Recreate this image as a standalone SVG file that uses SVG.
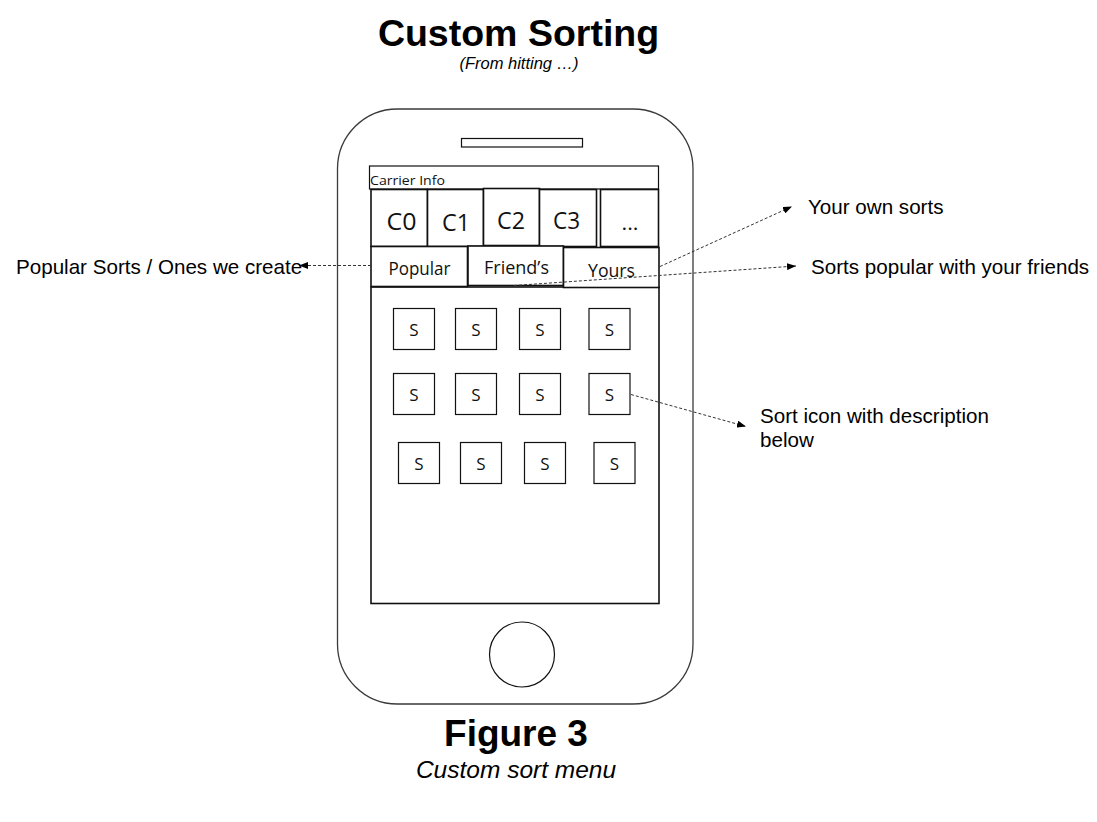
<svg xmlns="http://www.w3.org/2000/svg" width="1097" height="822" viewBox="0 0 1097 822">
<style>
.bg{fill:#fff}
.phone{fill:#fff;stroke:#3a3a3a;stroke-width:1.3}
.box{fill:#fff;stroke:#111;stroke-width:1.6}
.thin{fill:#fff;stroke:#111;stroke-width:1.2}
.cal{font-family:"Open Sans","Noto Sans","DejaVu Sans",sans-serif;fill:#111}
.ar{font-family:"Liberation Sans",Arial,sans-serif;fill:#000}
.conn{fill:none;stroke:#333;stroke-width:1;stroke-dasharray:3 2}
</style>
<defs>
<marker id="ah" markerUnits="userSpaceOnUse" markerWidth="9" markerHeight="7" refX="9" refY="3.5" orient="auto">
<path d="M0,0 L9,3.5 L0,7 z" fill="#000"/>
</marker>
</defs>
<rect class="bg" x="0" y="0" width="1097" height="822"/>

<g id="title">
<text class="ar" x="518.5" y="46" font-size="37.5" font-weight="bold" text-anchor="middle">Custom Sorting</text>
<text class="ar" x="519" y="69" font-size="16.5" font-style="italic" text-anchor="middle">(From hitting …)</text>
</g>

<g id="phone">
<rect class="phone" x="337.5" y="109" width="355.5" height="595" rx="60" ry="60"/>
<rect class="thin" x="461.5" y="138.5" width="121" height="8.5"/>
<circle class="thin" cx="522" cy="654.5" r="32.5"/>
</g>

<g id="screen">
<rect class="box" x="371" y="287" width="288" height="316.5"/>
</g>

<g id="carrier">
<rect class="thin" x="369.5" y="166" width="289" height="23"/>
<text class="cal" x="370" y="184.5" font-size="13.5" textLength="75" lengthAdjust="spacingAndGlyphs">Carrier Info</text>
</g>

<g id="categories">
<rect class="box" x="371" y="189.5" width="56.5" height="57"/>
<rect class="box" x="427.5" y="189.5" width="56" height="57"/>
<rect class="box" x="483.5" y="188.5" width="56" height="57"/>
<rect class="box" x="539.5" y="189.5" width="57" height="57"/>
<rect class="box" x="600.5" y="189.5" width="58" height="57"/>
<text class="cal" x="401.5" y="230" font-size="24" text-anchor="middle" textLength="30" lengthAdjust="spacingAndGlyphs">C0</text>
<text class="cal" x="456" y="230.5" font-size="24" text-anchor="middle" textLength="28" lengthAdjust="spacingAndGlyphs">C1</text>
<text class="cal" x="511" y="228.5" font-size="24" text-anchor="middle" textLength="28" lengthAdjust="spacingAndGlyphs">C2</text>
<text class="cal" x="566.5" y="228.5" font-size="24" text-anchor="middle" textLength="27" lengthAdjust="spacingAndGlyphs">C3</text>
<text class="cal" x="630" y="230" font-size="20" text-anchor="middle" textLength="17" lengthAdjust="spacingAndGlyphs">...</text>
</g>

<g id="tabs">
<rect class="box" x="371" y="246.5" width="96.5" height="40"/>
<rect class="box" x="468" y="246" width="95.5" height="39.5"/>
<rect class="box" x="563.5" y="247.5" width="95.5" height="40"/>
<text class="cal" x="419.5" y="274.5" font-size="17.5" text-anchor="middle" textLength="62" lengthAdjust="spacingAndGlyphs">Popular</text>
<text class="cal" x="516.5" y="274" font-size="17.5" text-anchor="middle" textLength="65" lengthAdjust="spacingAndGlyphs">Friend’s</text>
<text class="cal" x="611.5" y="276.5" font-size="17.5" text-anchor="middle" textLength="47" lengthAdjust="spacingAndGlyphs">Yours</text>
</g>

<g id="sorts">
<rect class="thin" x="393.5" y="308.5" width="41" height="41"/>
<rect class="thin" x="455.5" y="308.5" width="41" height="41"/>
<rect class="thin" x="519.5" y="308.5" width="41" height="41"/>
<rect class="thin" x="589" y="308.5" width="41" height="41"/>
<rect class="thin" x="393.5" y="373.5" width="41" height="41"/>
<rect class="thin" x="455.5" y="373.5" width="41" height="41"/>
<rect class="thin" x="519.5" y="373.5" width="41" height="41"/>
<rect class="thin" x="589" y="373.5" width="41" height="41"/>
<rect class="thin" x="398.5" y="442.5" width="41" height="41"/>
<rect class="thin" x="460.5" y="442.5" width="41" height="41"/>
<rect class="thin" x="524.5" y="442.5" width="41" height="41"/>
<rect class="thin" x="594" y="442.5" width="41" height="41"/>
<g class="cal" font-size="17" text-anchor="middle">
<text x="414" y="335.5">S</text>
<text x="476" y="335.5">S</text>
<text x="540" y="335.5">S</text>
<text x="609.5" y="335.5">S</text>
<text x="414" y="400.5">S</text>
<text x="476" y="400.5">S</text>
<text x="540" y="400.5">S</text>
<text x="609.5" y="400.5">S</text>
<text x="419" y="469.5">S</text>
<text x="481" y="469.5">S</text>
<text x="545" y="469.5">S</text>
<text x="614.5" y="469.5">S</text>
</g>
</g>

<g id="connectors">
<line class="conn" x1="371" y1="265.5" x2="299" y2="265.5" marker-end="url(#ah)"/>
<line class="conn" x1="660" y1="266.5" x2="792" y2="206.5" marker-end="url(#ah)"/>
<line class="conn" x1="514" y1="285.5" x2="796" y2="266" marker-end="url(#ah)"/>
<line class="conn" x1="631" y1="394.5" x2="746" y2="426.5" marker-end="url(#ah)"/>
</g>

<g id="labels">
<text class="ar" x="16" y="274" font-size="20.6">Popular Sorts / Ones we create</text>
<text class="ar" x="808" y="214" font-size="20.6">Your own sorts</text>
<text class="ar" x="811" y="274" font-size="20.6">Sorts popular with your friends</text>
<text class="ar" x="760" y="423" font-size="20.6">Sort icon with description</text>
<text class="ar" x="760" y="447" font-size="20.6">below</text>
</g>

<g id="caption">
<text class="ar" x="516" y="746" font-size="37" font-weight="bold" text-anchor="middle">Figure 3</text>
<text class="ar" x="516" y="778" font-size="24.5" font-style="italic" text-anchor="middle">Custom sort menu</text>
</g>
</svg>
